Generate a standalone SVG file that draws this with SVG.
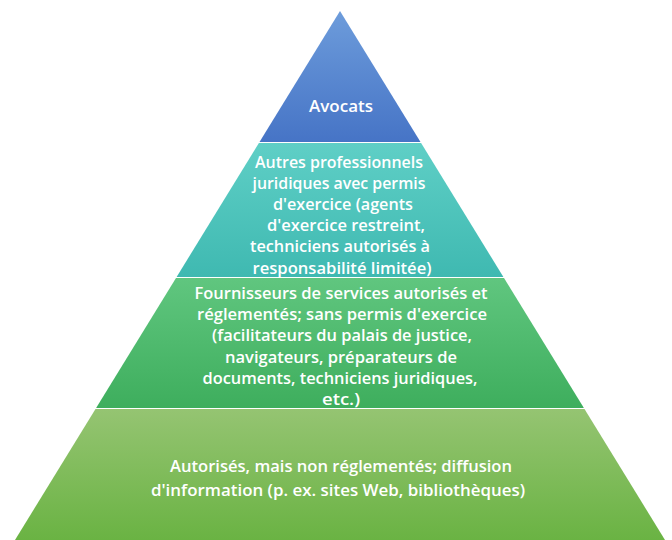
<svg xmlns="http://www.w3.org/2000/svg" width="672" height="540" viewBox="0 0 672 540">
<defs>
<linearGradient id="gBlue" x1="0" y1="0" x2="0" y2="1"><stop offset="0" stop-color="#6d9cdb"/><stop offset="1" stop-color="#4674c6"/></linearGradient>
<linearGradient id="gTeal" x1="0" y1="0" x2="0" y2="1"><stop offset="0" stop-color="#5fcfc6"/><stop offset="1" stop-color="#3fb9b1"/></linearGradient>
<linearGradient id="gGreen" x1="0" y1="0" x2="0" y2="1"><stop offset="0" stop-color="#60c67f"/><stop offset="1" stop-color="#3eae5d"/></linearGradient>
<linearGradient id="gLight" x1="0" y1="0" x2="0" y2="1"><stop offset="0" stop-color="#95c472"/><stop offset="1" stop-color="#6ab343"/></linearGradient>
<style>
text{font-family:"Open Sans","Noto Sans","Liberation Sans",sans-serif;font-size:15.5px;font-weight:600;fill:#ffffff;text-anchor:middle}
</style>
</defs>
<rect width="672" height="540" fill="#ffffff"/>
<g id="avocats">
<polygon points="340,11 420.5,142 259.5,142" fill="url(#gBlue)"/>
<text x="341" y="112" textLength="64" lengthAdjust="spacingAndGlyphs">Avocats</text>
</g>
<g id="autres-professionnels">
<polygon points="258.9,143 421.1,143 503.4,277 176.6,277" fill="url(#gTeal)"/>
<text x="339" y="167.5" textLength="168" lengthAdjust="spacingAndGlyphs">Autres professionnels</text>
<text x="339" y="188.7" textLength="173" lengthAdjust="spacingAndGlyphs">juridiques avec permis</text>
<text x="343" y="209.9" textLength="140" lengthAdjust="spacingAndGlyphs">d'exercice (agents</text>
<text x="346" y="231.1" textLength="158" lengthAdjust="spacingAndGlyphs">d'exercice restreint,</text>
<text x="340" y="252.3" textLength="180" lengthAdjust="spacingAndGlyphs">techniciens autorisés à</text>
<text x="342" y="273.5" textLength="179" lengthAdjust="spacingAndGlyphs">responsabilité limitée)</text>
</g>
<g id="fournisseurs">
<polygon points="176,278 504,278 583.9,408 96.1,408" fill="url(#gGreen)"/>
<text x="341" y="299" textLength="293" lengthAdjust="spacingAndGlyphs">Fournisseurs de services autorisés et</text>
<text x="342" y="320.2" textLength="290" lengthAdjust="spacingAndGlyphs">réglementés; sans permis d'exercice</text>
<text x="342" y="341.4" textLength="260" lengthAdjust="spacingAndGlyphs">(facilitateurs du palais de justice,</text>
<text x="341" y="362.6" textLength="232" lengthAdjust="spacingAndGlyphs">navigateurs, préparateurs de</text>
<text x="340" y="383.8" textLength="275" lengthAdjust="spacingAndGlyphs">documents, techniciens juridiques,</text>
<text x="341" y="405" textLength="38" lengthAdjust="spacingAndGlyphs">etc.)</text>
</g>
<g id="autorises">
<polygon points="95.5,409 584.5,409 665,540 15,540" fill="url(#gLight)"/>
<text x="341" y="472" textLength="342" lengthAdjust="spacingAndGlyphs">Autorisés, mais non réglementés; diffusion</text>
<text x="338" y="496" textLength="374" lengthAdjust="spacingAndGlyphs">d'information (p. ex. sites Web, bibliothèques)</text>
</g>
</svg>
